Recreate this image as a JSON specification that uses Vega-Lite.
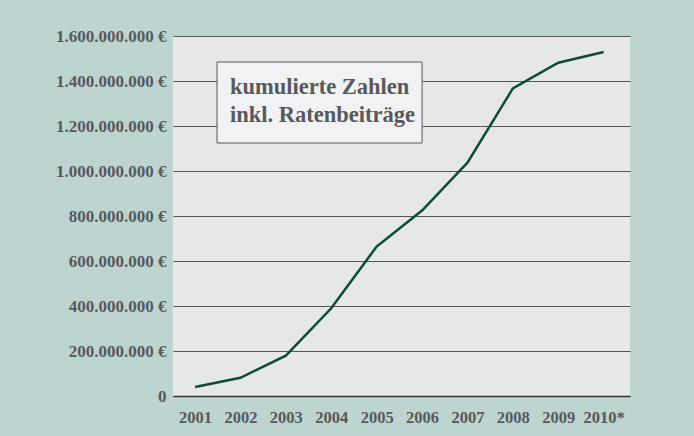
{
  "$schema": "https://vega.github.io/schema/vega-lite/v6.json",
  "width": 457,
  "height": 360,
  "autosize": {"type": "none"},
  "padding": {"left": 173, "top": 36, "right": 64, "bottom": 40},
  "background": "#bdd4d0",
  "config": {
    "view": {"fill": "#e6e7e8", "stroke": null},
    "locale": {"number": {"decimal": ",", "thousands": ".", "grouping": [3], "currency": ["", " €"]}},
    "font": "Liberation Serif"
  },
  "datasets": {
    "series": [
      {"year": 2001, "value": 40000000},
      {"year": 2002, "value": 81000000},
      {"year": 2003, "value": 179000000},
      {"year": 2004, "value": 390000000},
      {"year": 2005, "value": 664000000},
      {"year": 2006, "value": 824000000},
      {"year": 2007, "value": 1037000000},
      {"year": 2008, "value": 1367000000},
      {"year": 2009, "value": 1481000000},
      {"year": 2010, "value": 1529000000}
    ],
    "box": [{"x1": 2001.485, "x2": 2006.0, "y1": 1484400000, "y2": 1124400000}],
    "label": [{"x": 2001.77, "y": 1342000000, "text": ["kumulierte Zahlen", "inkl. Ratenbeiträge"]}]
  },
  "layer": [
    {
      "data": {"name": "series"},
      "mark": {"type": "line", "color": "#0d4a38", "strokeWidth": 2.5, "clip": false},
      "encoding": {
        "x": {
          "field": "year", "type": "quantitative",
          "scale": {"domain": [2000.515, 2010.58], "nice": false, "zero": false},
          "axis": {
            "title": null, "values": [2001, 2002, 2003, 2004, 2005, 2006, 2007, 2008, 2009, 2010],
            "format": "d", "labelExpr": "datum.value == 2010 ? '2010*' : datum.label",
            "grid": false, "ticks": false, "domain": true, "domainColor": "#333333", "domainWidth": 1.5,
            "labelFont": "Liberation Serif", "labelFontWeight": "bold", "labelFontSize": 16.5,
            "labelColor": "#58595b", "labelPadding": 13, "labelFlush": false, "labelOverlap": false
          }
        },
        "y": {
          "field": "value", "type": "quantitative",
          "scale": {"domain": [0, 1600000000], "nice": false},
          "axis": {
            "title": null, "values": [0, 200000000, 400000000, 600000000, 800000000, 1000000000, 1200000000, 1400000000, 1600000000],
            "format": ",d", "labelExpr": "datum.value == 0 ? '0' : datum.label + ' €'",
            "grid": true, "gridColor": "#555555", "gridWidth": 1, "gridOpacity": 1,
            "ticks": false, "domain": false,
            "labelFont": "Liberation Serif", "labelFontWeight": "bold", "labelFontSize": 17,
            "labelColor": "#58595b", "labelPadding": 7, "labelFlush": false, "labelOverlap": false
          }
        }
      }
    },
    {
      "data": {"name": "box"},
      "mark": {"type": "rect", "fill": "#f1f2f4", "stroke": "#58595b", "strokeWidth": 1},
      "encoding": {
        "x": {"field": "x1", "type": "quantitative"},
        "x2": {"field": "x2"},
        "y": {"field": "y1", "type": "quantitative"},
        "y2": {"field": "y2"}
      }
    },
    {
      "data": {"name": "label"},
      "mark": {"type": "text", "align": "left", "baseline": "alphabetic", "font": "Liberation Serif", "fontWeight": "bold", "fontSize": 22.5, "lineHeight": 28, "color": "#58595b"},
      "encoding": {
        "x": {"field": "x", "type": "quantitative"},
        "y": {"field": "y", "type": "quantitative"},
        "text": {"field": "text"}
      }
    }
  ]
}
